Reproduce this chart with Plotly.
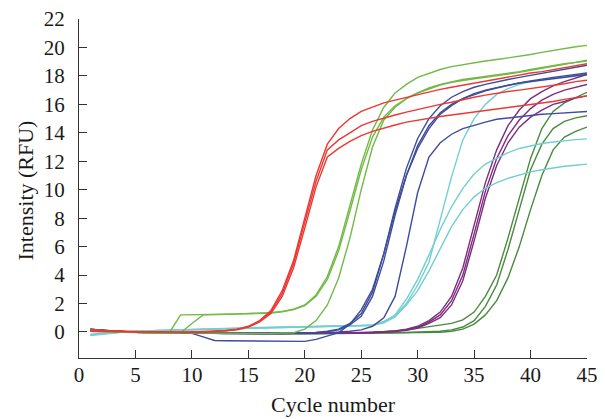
import plotly.graph_objects as go

cycles = list(range(1, 46))

red_1 = [0.15,0.1,0.05,0.0,0.0,-0.02,-0.03,-0.03,-0.02,0.0, 0.02,0.05,0.1,0.2,0.4,0.8,1.5,2.9,5.0,8.0, 11.0,13.2,14.3,15.0,15.5,15.8,16.1,16.3,16.5,16.7, 16.9,17.05,17.2,17.35,17.5,17.65,17.8,17.9,18.05,18.2, 18.3,18.45,18.55,18.7,18.85]
red_2 = [0.1,0.08,0.04,0.0,-0.01,-0.02,-0.03,-0.03,-0.02,-0.01, 0.01,0.04,0.09,0.18,0.37,0.75,1.4,2.7,4.8,7.7, 10.6,12.8,13.5,14.0,14.5,14.8,15.05,15.25,15.45,15.65, 15.85,16.0,16.15,16.35,16.5,16.65,16.8,16.9,17.0,17.1, 17.2,17.35,17.45,17.6,17.7]
red_3 = [0.05,0.04,0.02,0.0,-0.01,-0.02,-0.03,-0.04,-0.03,-0.02, 0.0,0.03,0.08,0.16,0.34,0.7,1.3,2.5,4.5,7.3, 10.2,12.3,12.9,13.4,13.8,14.1,14.35,14.55,14.75,14.9, 15.05,15.15,15.25,15.35,15.45,15.55,15.65,15.75,15.85,15.95, 16.1,16.2,16.35,16.5,16.6]

green_1 = [0.15,0.1,0.05,0.0,-0.02,-0.04,-0.05,-0.05,1.2,1.2, 1.22,1.23,1.25,1.27,1.28,1.3,1.35,1.45,1.6,1.9, 2.6,3.9,6.0,8.9,11.8,14.2,15.8,16.8,17.4,17.9, 18.2,18.45,18.65,18.8,18.95,19.05,19.15,19.25,19.35,19.5, 19.65,19.8,19.95,20.05,20.15]
green_2 = [0.1,0.06,0.02,-0.01,-0.03,-0.05,-0.06,-0.06,-0.05,0.6, 1.2,1.22,1.24,1.26,1.27,1.29,1.33,1.42,1.57,1.85, 2.5,3.7,5.7,8.5,11.4,13.7,15.1,15.9,16.4,16.8, 17.15,17.4,17.6,17.75,17.85,17.95,18.05,18.15,18.3,18.45, 18.6,18.75,18.85,18.95,19.1]
green_3 = [0.05,0.02,0.0,-0.02,-0.04,-0.05,-0.06,-0.07,-0.08,-0.08, -0.09,-0.09,-0.1,-0.1,-0.1,-0.1,-0.1,-0.1,-0.05,0.2, 0.8,1.9,3.8,6.6,10.0,13.0,14.9,15.8,16.4,16.8, 17.1,17.35,17.55,17.7,17.8,17.9,18.0,18.1,18.25,18.4, 18.55,18.7,18.85,18.95,19.05]

blue_1 = [0.2,0.12,0.06,0.02,0.0,-0.02,-0.04,-0.05,-0.06,-0.07, -0.08,-0.09,-0.1,-0.1,-0.1,-0.1,-0.1,-0.09,-0.08,-0.06, -0.03,0.05,0.2,0.6,1.3,2.8,5.5,8.7,11.5,13.6, 15.0,15.9,16.5,16.9,17.2,17.4,17.6,17.75,17.9,18.05, 18.2,18.35,18.5,18.6,18.75]
blue_2 = [0.15,0.1,0.05,0.01,-0.01,-0.03,-0.05,-0.06,-0.07,-0.08, -0.09,-0.1,-0.11,-0.12,-0.12,-0.12,-0.12,-0.11,-0.1,-0.08, -0.05,0.02,0.15,0.5,1.1,2.5,5.0,8.2,11.0,13.1, 14.5,15.4,16.0,16.4,16.7,16.95,17.15,17.35,17.5,17.65, 17.8,17.9,18.0,18.1,18.2]
blue_3 = [0.1,0.05,0.02,0.0,-0.01,-0.02,-0.03,-0.05,-0.07,-0.1, -0.35,-0.6,-0.62,-0.63,-0.64,-0.65,-0.65,-0.66,-0.66,-0.66, -0.52,-0.3,-0.05,0.55,1.55,3.0,5.5,8.5,11.0,12.9, 14.3,15.3,15.9,16.4,16.75,17.0,17.2,17.35,17.5,17.6, 17.75,17.85,17.95,18.05,18.1]
blue_4 = [0.2,0.12,0.06,0.02,0.0,-0.02,-0.03,-0.04,-0.05,-0.06, -0.07,-0.08,-0.08,-0.09,-0.09,-0.09,-0.09,-0.09,-0.08,-0.07, -0.05,-0.03,0.0,0.05,0.15,0.4,1.0,2.5,6.0,9.8, 12.3,13.3,13.9,14.3,14.55,14.75,14.95,15.05,15.1,15.2, 15.3,15.35,15.4,15.45,15.5]

cyan_1 = [-0.25,-0.15,-0.05,0.0,0.05,0.08,0.1,0.12,0.15,0.18, 0.2,0.22,0.25,0.27,0.3,0.32,0.33,0.35,0.36,0.38, 0.39,0.4,0.42,0.44,0.46,0.5,0.75,1.15,2.0,3.3, 4.9,7.9,10.9,13.5,15.0,16.0,16.7,17.1,17.4,17.6, 17.75,17.85,17.95,18.05,18.15]
cyan_2 = [-0.2,-0.12,-0.04,0.01,0.05,0.08,0.1,0.12,0.14,0.17, 0.19,0.21,0.23,0.25,0.28,0.3,0.32,0.33,0.35,0.36, 0.37,0.39,0.4,0.42,0.44,0.47,0.7,1.2,2.3,3.7, 5.4,7.2,8.8,10.1,11.1,11.8,12.2,12.6,12.9,13.1, 13.25,13.35,13.45,13.52,13.57]
cyan_3 = [-0.15,-0.1,-0.03,0.02,0.05,0.08,0.1,0.12,0.14,0.16, 0.18,0.2,0.22,0.24,0.26,0.28,0.3,0.31,0.33,0.34, 0.35,0.37,0.38,0.4,0.42,0.45,0.65,1.05,1.9,2.9, 4.3,5.9,7.4,8.6,9.5,10.1,10.5,10.8,11.05,11.25, 11.4,11.55,11.65,11.72,11.8]

purple_1 = [0.05,0.02,0.0,-0.02,-0.03,-0.04,-0.05,-0.06,-0.07,-0.08, -0.08,-0.09,-0.09,-0.1,-0.1,-0.1,-0.1,-0.1,-0.1,-0.09, -0.09,-0.08,-0.07,-0.06,-0.04,-0.02,0.02,0.08,0.2,0.4, 0.8,1.4,2.5,4.5,7.5,10.5,12.8,14.5,15.6,16.4, 16.9,17.3,17.6,17.85,18.1]
purple_2 = [0.08,0.04,0.01,-0.01,-0.03,-0.04,-0.05,-0.06,-0.07,-0.08, -0.09,-0.1,-0.1,-0.11,-0.11,-0.11,-0.11,-0.11,-0.1,-0.1, -0.09,-0.09,-0.08,-0.07,-0.06,-0.04,-0.01,0.05,0.15,0.33, 0.7,1.2,2.2,4.0,6.9,9.9,12.2,13.8,14.9,15.7, 16.3,16.7,17.0,17.2,17.4]
purple_3 = [0.1,0.05,0.02,0.0,-0.02,-0.04,-0.05,-0.06,-0.07,-0.08, -0.09,-0.1,-0.11,-0.12,-0.12,-0.12,-0.12,-0.12,-0.11,-0.11, -0.1,-0.1,-0.09,-0.08,-0.07,-0.05,-0.02,0.03,0.12,0.28, 0.6,1.0,1.9,3.6,6.4,9.4,11.7,13.3,14.4,15.1, 15.6,16.0,16.2,16.45,16.6]

dkgreen_1 = [0.2,0.13,0.07,0.02,0.0,-0.02,-0.04,-0.05,-0.06,-0.07, -0.08,-0.08,-0.09,-0.09,-0.1,-0.1,-0.1,-0.1,-0.1,-0.1, -0.1,-0.1,-0.09,-0.08,-0.06,-0.03,0.02,0.08,0.15,0.25, 0.35,0.45,0.6,0.85,1.4,2.5,4.0,6.6,9.4,12.2, 14.3,15.5,16.1,16.5,16.85]
dkgreen_2 = [0.15,0.1,0.05,0.01,-0.01,-0.03,-0.05,-0.06,-0.07,-0.08, -0.09,-0.1,-0.1,-0.11,-0.11,-0.11,-0.11,-0.11,-0.11,-0.11, -0.11,-0.1,-0.1,-0.09,-0.09,-0.08,-0.07,-0.06,-0.04,-0.02, 0.0,0.05,0.15,0.35,0.8,1.8,3.3,5.8,8.6,11.4, 13.2,14.3,14.8,15.05,15.2]
dkgreen_3 = [0.18,0.12,0.06,0.01,-0.01,-0.03,-0.05,-0.06,-0.08,-0.09, -0.1,-0.11,-0.12,-0.12,-0.13,-0.13,-0.13,-0.13,-0.13,-0.13, -0.13,-0.12,-0.12,-0.12,-0.11,-0.11,-0.1,-0.1,-0.09,-0.08, -0.05,-0.02,0.05,0.2,0.55,1.2,2.2,3.8,6.0,8.6, 11.0,12.8,13.7,14.1,14.4]

x_ticks = [0, 5, 10, 15, 20, 25, 30, 35, 40, 45]
y_ticks = [0, 2, 4, 6, 8, 10, 12, 14, 16, 18, 20, 22]

groups = [
    ("#4a8a3f", [dkgreen_3, dkgreen_2, dkgreen_1]),
    ("#7e2c80", [purple_3, purple_2, purple_1]),
    ("#72cfd0", [cyan_3, cyan_2, cyan_1]),
    ("#3d4c9c", [blue_4, blue_3, blue_2, blue_1]),
    ("#72ba45", [green_3, green_2, green_1]),
    ("#ec3732", [red_3, red_2, red_1]),
]

fig = go.Figure()
for color, series in groups:
    for s in series:
        fig.add_trace(go.Scatter(x=cycles, y=s, mode="lines",
                                 line=dict(color=color, width=1.4),
                                 showlegend=False, hoverinfo="skip"))

font_family = "Liberation Serif, Times New Roman, serif"
fig.update_layout(
    width=597, height=411,
    margin=dict(l=71, r=18, t=11, b=61, autoexpand=False),
    paper_bgcolor="white", plot_bgcolor="white",
    font=dict(family=font_family, size=21, color="#1a1a1a"),
    showlegend=False,
    annotations=[
        dict(text="Cycle number", x=0.5, y=0, xref="paper", yref="paper",
             xanchor="center", yanchor="middle", yshift=-46, showarrow=False,
             font=dict(family=font_family, size=22, color="#1a1a1a")),
        dict(text="Intensity (RFU)", x=0, y=0.5, xref="paper", yref="paper",
             xanchor="center", yanchor="middle", xshift=-54, yshift=-2, textangle=-90,
             showarrow=False, font=dict(family=font_family, size=22, color="#1a1a1a")),
    ],
)
fig.update_xaxes(range=[0, 45], tickvals=x_ticks, ticks="inside", ticklen=8,
                 tickcolor="#333333", tickwidth=1.3, showline=True, linecolor="#333333",
                 linewidth=1.3, showgrid=False, zeroline=False, mirror=False,
                 ticklabelposition="outside", ticklabelstandoff=-2,
                 automargin=False, ticklabeloverflow="allow")
fig.update_yaxes(range=[-1.83, 22], tickvals=y_ticks, ticks="inside", ticklen=8,
                 tickcolor="#333333", tickwidth=1.3, showline=True, linecolor="#333333",
                 linewidth=1.3, showgrid=False, zeroline=False, mirror=False,
                 ticklabelposition="outside", ticklabelstandoff=9,
                 automargin=False, ticklabeloverflow="allow")

fig.write_html("out.html")
